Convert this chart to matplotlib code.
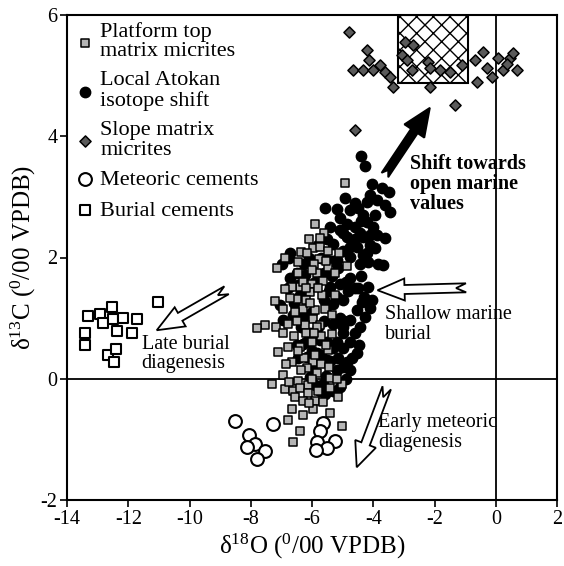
import numpy as np
import matplotlib
matplotlib.use('Agg')
import matplotlib.pyplot as plt
from matplotlib.patches import Polygon, Rectangle

plt.rcParams['font.family'] = ['Liberation Serif', 'DejaVu Serif']
plt.rcParams['mathtext.fontset'] = 'custom'
plt.rcParams['mathtext.rm'] = 'Liberation Serif'
plt.rcParams['mathtext.it'] = 'Liberation Serif:italic'
plt.rcParams['axes.unicode_minus'] = False

# platform top matrix micrites (d18O, d13C)
platform_x = [-5.90, -5.61, -5.96, -5.74, -5.47, -5.11, -6.37, -6.15, -6.88, -5.76,
              -5.92, -6.45, -5.47, -4.87, -7.15, -5.85, -5.25, -5.63, -6.01, -6.39,
              -6.66, -6.88, -5.25, -5.68, -6.07, -6.20, -6.50, -6.72, -7.21, -6.94,
              -6.30, -5.90, -5.58, -5.36, -5.96, -5.74, -6.23, -7.53, -7.18, -7.81,
              -4.92, -5.74, -5.85, -5.36, -6.39, -6.77, -7.10, -5.47, -6.66, -5.96,
              -6.17, -6.37, -6.94, -5.85, -5.41, -7.32, -6.45, -6.12, -6.88, -6.61,
              -6.39, -5.41, -5.03, -5.79, -6.12, -6.55, -6.29, -5.90, -5.63, -6.66,
              -6.29, -5.96, -5.41, -6.77, -5.03, -6.39, -6.61,
              -6.00, -5.70, -6.20, -5.90, -6.50, -6.05, -5.80, -6.30, -6.00, -5.55,
              -6.60, -6.00, -5.70, -6.25, -5.55, -6.55, -6.80, -6.10,
              -6.45, -6.85, -5.45, -5.20, -6.20, -6.45, -5.95, -6.10, -5.15, -6.95,
              -6.75]
platform_y = [2.55, 2.41, 2.15, 2.17, 2.11, 2.07, 2.09, 2.07, 1.99, 1.97,
              1.89, 1.92, 1.84, 1.86, 1.82, 1.74, 1.74, 1.62, 1.57, 1.52,
              1.52, 1.48, 1.38, 1.38, 1.43, 1.30, 1.31, 1.34, 1.29, 1.15,
              1.15, 1.13, 1.15, 1.05, 0.98, 0.89, 0.89, 0.89, 0.85, 0.83,
              3.23, 2.32, 0.86, 0.74, 0.52, 0.53, 0.44, 0.47, 0.27, 0.27,
              0.17, 0.14, 0.06, 0.09, 0.01, -0.08, -0.03, -0.10, -0.17, -0.21,
              -0.16, -0.16, -0.08, -0.21, -0.23, -0.30, -0.36, -0.37, -0.38, -0.50,
              -0.60, -0.50, -0.56, -0.68, -0.78, -0.87, -1.04,
              0.60, 0.70, 0.75, 0.40, 0.95, 1.25, 1.50, 1.60, 1.80, 1.95,
              0.70, 0.00, 0.25, 0.35, 0.55, 1.10, 0.90, 2.30,
              0.45, 0.25, 0.20, 0.00, 1.50, 1.75, 0.75, -0.40, -0.30, 0.75,
              -0.05]

# local Atokan isotope shift
atokan_x = [-4.41, -4.27, -4.03, -3.72, -3.48, -4.92, -5.58, -4.11, -3.89, -4.21,
            -4.49, -4.76, -3.62, -3.45, -3.94, -4.32, -5.09, -4.21, -4.60, -4.87,
            -3.89, -3.62, -4.32, -4.11, -4.32, -3.67, -5.09, -5.30, -4.76, -6.72,
            -6.99, -4.43, -4.11, -4.87, -4.54, -4.21, -4.76, -4.43, -4.16, -3.83,
            -5.14, -4.76, -4.49, -4.16, -4.82, -4.98, -4.38, -4.11, -4.54, -4.27,
            -4.76, -4.98, -5.30, -5.19, -5.52, -6.23, -6.50, -6.72, -6.39, -7.05,
            -6.94, -6.61, -6.29, -5.41, -5.09, -3.94, -4.05, -4.76, -4.87, -4.76,
            -4.54, -4.43, -5.09, -5.30, -5.58, -6.07, -5.74, -6.29, -5.52, -5.85,
            -6.17, -6.45, -5.19, -6.07, -5.63, -5.74,
            -5.50, -5.30, -5.60, -5.20, -5.00, -5.50, -5.90, -5.60, -5.30, -5.00,
            -5.50, -6.10, -5.70, -5.45, -5.20, -6.00, -5.80, -6.20, -5.00, -4.60,
            -6.50, -6.60, -6.80, -6.00, -5.40, -5.00, -4.90,
            -5.80, -5.40, -5.00, -4.60, -4.40, -5.20, -4.60, -4.00, -5.60, -5.10,
            -4.90, -4.60, -4.40, -5.30, -4.70, -5.55, -5.15, -4.95, -6.35, -6.45,
            -6.25, -6.00, -5.90, -5.35, -5.70, -6.75, -4.30, -4.45]
atokan_y = [3.67, 3.51, 3.22, 3.14, 3.08, 2.98, 2.81, 3.03, 2.95, 2.92,
            2.81, 2.78, 2.87, 2.75, 2.70, 2.70, 2.65, 2.59, 2.51, 2.56,
            2.37, 2.32, 2.34, 2.21, 2.04, 1.88, 2.45, 2.23, 2.18, 2.07,
            1.90, 2.40, 2.37, 2.34, 2.18, 2.07, 2.01, 1.90, 1.93, 1.90,
            1.82, 1.66, 1.49, 1.52, 1.44, 1.30, 1.27, 1.16, 1.13, 1.02,
            0.97, 0.86, 1.24, 1.96, 1.96, 1.71, 1.74, 1.66, 1.38, 1.22,
            0.97, 1.05, 1.02, 1.52, 1.57, 2.15, 1.30, 0.61, 0.28, 0.14,
            0.42, 0.86, -0.13, -0.21, -0.25, 0.75, 0.64, 0.58, 0.31, 0.42,
            0.36, 0.34, 0.14, 0.03, -0.08, -0.21,
            1.20, 0.90, 0.95, 0.60, 0.50, 0.60, 1.60, 1.75, 1.95, 2.10,
            2.30, 2.00, 2.00, 1.45, 1.35, 1.10, 0.85, 0.60, 0.75, 0.75,
            0.55, 1.25, 1.50, 0.20, 0.30, 0.20, 0.00,
            2.20, 2.50, 2.40, 2.30, 2.60, 2.80, 2.90, 2.50, 1.30, 1.00,
            1.60, 1.50, 1.70, 0.50, 0.35, 0.05, 0.35, 0.95, 0.85, 1.55,
            1.90, 0.45, -0.10, 1.70, 0.40, 2.00, 1.35, 0.55]

# slope matrix micrites
slope_x = [-4.78, -4.21, -4.13, -4.65, -4.32, -4.00, -3.78, -3.62, -3.45, -3.35,
           -2.96, -2.69, -3.07, -2.91, -2.74, -2.20, -2.15, -2.15, -1.82, -1.49,
           -1.11, -1.33, -0.68, -0.41, -0.62, -0.30, -0.13, 0.08, 0.25, 0.47,
           0.57, 0.68, 0.36, -4.60]
slope_y = [5.72, 5.43, 5.26, 5.09, 5.09, 5.09, 5.18, 5.06, 4.98, 4.81,
           5.56, 5.50, 5.34, 5.26, 5.09, 5.23, 5.12, 4.81, 5.09, 5.06,
           5.18, 4.52, 5.26, 5.39, 4.90, 5.12, 4.98, 5.29, 5.09, 5.29,
           5.37, 5.09, 5.20, 4.10]

# meteoric cements
meteoric_x = [-8.51, -8.05, -7.86, -8.11, -7.53, -7.81, -7.26,
              -5.63, -5.74, -5.85, -5.25, -5.52, -5.87]
meteoric_y = [-0.69, -0.92, -1.07, -1.12, -1.19, -1.32, -0.74,
              -0.73, -0.87, -1.04, -1.03, -1.15, -1.18]

# burial cements
burial_x = [-11.04, -13.30, -12.92, -12.54, -12.81, -12.49, -12.16, -11.72,
            -12.38, -11.89, -13.41, -13.41, -12.65, -12.40, -12.47]
burial_y = [1.26, 1.03, 1.07, 1.19, 0.92, 0.98, 1.00, 0.98,
            0.79, 0.75, 0.75, 0.56, 0.39, 0.49, 0.28]

# open-marine field (hatched box)
marine_box = (-3.2, 4.88, 2.3, 1.12)


def notched_arrow(ax, tail, tip, fc, head_len=27, head_w=11, shaft_w=4.5, notch=10):
    # arrow outline built in pixels along tip->tail, then mapped back to data
    trans = ax.transData
    p0 = trans.transform(tip)
    p1 = trans.transform(tail)
    d = p1 - p0
    L = np.hypot(*d)
    u = d / L
    v = np.array([-u[1], u[0]])
    local = [(0, 0), (head_len, head_w), (head_len, shaft_w), (L, shaft_w),
             (L - notch, 0), (L, -shaft_w), (head_len, -shaft_w), (head_len, -head_w)]
    pts = trans.inverted().transform([p0 + a * u + b * v for a, b in local])
    ax.add_patch(Polygon(pts, closed=True, fc=fc, ec='black', lw=1.3, zorder=6))


def main():
    fig = plt.figure(figsize=(5.64, 5.66), dpi=100)
    ax = fig.add_axes([67 / 564, 1 - 500 / 566, 490 / 564, 485 / 566])
    ax.set_xlim(-14, 2)
    ax.set_ylim(-2, 6)

    ax.axhline(0, color='black', lw=1.3, zorder=1)
    ax.axvline(0, color='black', lw=1.3, zorder=1)

    x0, y0, w, h = marine_box
    ax.add_patch(Rectangle((x0, y0), w, h, fc='white', ec='black', lw=1.5,
                           hatch='xx', zorder=2))

    ax.scatter(platform_x, platform_y, marker='s', s=26, c='#b5b5b5', edgecolors='black',
               linewidths=1.1, zorder=4, label='Platform top\nmatrix micrites')
    ax.scatter(atokan_x, atokan_y, marker='o', s=56, c='black', zorder=3,
               label='Local Atokan\nisotope shift')
    ax.scatter(slope_x, slope_y, marker='D', s=32, c='#5a5a5a', edgecolors='black',
               linewidths=1.1, zorder=4, label='Slope matrix\nmicrites')
    ax.scatter(meteoric_x, meteoric_y, marker='o', s=85, facecolors='white',
               edgecolors='black', linewidths=1.5, zorder=4, label='Meteoric cements')
    ax.scatter(burial_x, burial_y, marker='s', s=50, facecolors='white',
               edgecolors='black', linewidths=1.5, zorder=4, label='Burial cements')

    # annotations
    notched_arrow(ax, (-3.62, 3.36), (-2.15, 4.47), 'black', head_len=28, head_w=12,
                  shaft_w=4, notch=6)
    ax.text(-2.80, 3.70, 'Shift towards\nopen marine\nvalues', fontsize=14.5,
            fontweight='bold', va='top', ha='left', linespacing=1.0)
    notched_arrow(ax, (-0.97, 1.50), (-3.86, 1.46), 'white')
    ax.text(-3.62, 0.90, 'Shallow marine\nburial', fontsize=14.5, va='center',
            ha='left', linespacing=1.05)
    notched_arrow(ax, (-8.79, 1.46), (-11.07, 0.80), 'white')
    ax.text(-11.56, 0.41, 'Late burial\ndiagenesis', fontsize=14.5, va='center',
            ha='left', linespacing=1.05)
    notched_arrow(ax, (-3.56, -0.15), (-4.54, -1.46), 'white', head_len=25)
    ax.text(-3.85, -0.89, 'Early meteoric\ndiagenesis', fontsize=14.5, va='center',
            ha='left', linespacing=1.05)

    ax.set_xticks(np.arange(-14, 3, 2))
    ax.set_yticks(np.arange(-2, 7, 2))
    ax.tick_params(direction='out', length=5, width=1.2, labelsize=14.5, pad=2)
    for sp in ax.spines.values():
        sp.set_linewidth(1.5)
    ax.set_xlabel('δ$^{18}$O ($^{0}$/00 VPDB)', fontsize=18, labelpad=2)
    ax.set_ylabel('δ$^{13}$C ($^{0}$/00 VPDB)', fontsize=18, labelpad=2)

    leg = ax.legend(loc='upper left', bbox_to_anchor=(0, 1), frameon=False, fontsize=16,
                    borderaxespad=0, borderpad=0.3, handlelength=1.0, handletextpad=0.2,
                    labelspacing=0.45, scatterpoints=1)
    for t in leg.get_texts():
        t.set_linespacing(1.05)
    leg.set_zorder(7)

    fig.savefig('out.png', dpi=100)


if __name__ == '__main__':
    main()
